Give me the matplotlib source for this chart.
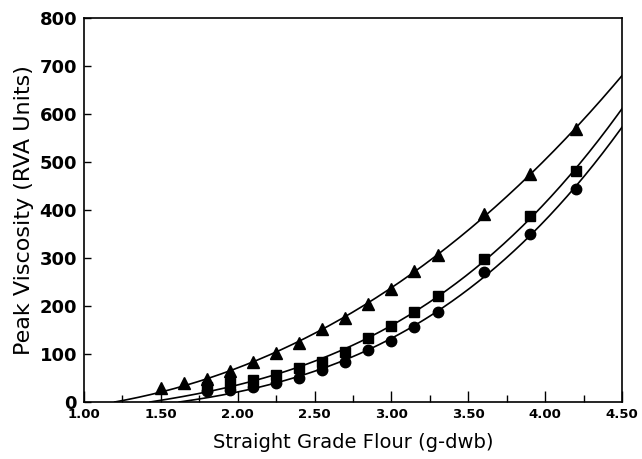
import numpy as np
import matplotlib
matplotlib.use("Agg")
from matplotlib import pyplot as plt
from matplotlib.ticker import MultipleLocator, FormatStrFormatter

plt.rcParams["font.family"] = ["DejaVu Sans"]

# data
x_tri = [1.50, 1.65, 1.80, 1.95, 2.10, 2.25, 2.40, 2.55, 2.70, 2.85, 3.00, 3.15, 3.30, 3.60, 3.90, 4.20]
y_tri = [29, 39, 48, 65, 84, 102, 122, 152, 176, 205, 236, 273, 307, 392, 474, 568]

x_sq = [1.80, 1.95, 2.10, 2.25, 2.40, 2.55, 2.70, 2.85, 3.00, 3.15, 3.30, 3.60, 3.90, 4.20]
y_sq = [31, 39, 46, 57, 70, 84, 105, 133, 159, 188, 221, 297, 388, 481]

x_circ = [1.80, 1.95, 2.10, 2.25, 2.40, 2.55, 2.70, 2.85, 3.00, 3.15, 3.30, 3.60, 3.90, 4.20]
y_circ = [22, 25, 32, 39, 51, 67, 84, 108, 127, 157, 188, 271, 350, 444]

# x where each fitted curve leaves the baseline
curve_start = [1.20, 1.43, 1.62]

series = [
    (x_tri, y_tri, "^", 8),
    (x_sq, y_sq, "s", 7),
    (x_circ, y_circ, "o", 7.5),
]


def fit_curve(xs, ys, x0):
    # cubic through (x0, 0), least squares on the points
    t = np.asarray(xs) - x0
    A = np.column_stack([t, t ** 2, t ** 3])
    coef, *_ = np.linalg.lstsq(A, np.asarray(ys, float), rcond=None)
    xf = np.linspace(x0, 4.5, 300)
    tf = xf - x0
    return xf, coef[0] * tf + coef[1] * tf ** 2 + coef[2] * tf ** 3


fig = plt.figure(figsize=(6.42, 4.59), dpi=100)
ax = fig.add_axes([0.1308, 0.1242, 0.838, 0.8366])

for (xs, ys, mk, ms), x0 in zip(series, curve_start):
    xf, yf = fit_curve(xs, ys, x0)
    ax.plot(xf, yf, color="black", lw=1.2)
    ax.plot(xs, ys, linestyle="none", marker=mk, ms=ms, color="black")

ax.set_xlim(1.0, 4.5)
ax.set_ylim(0, 800)
ax.xaxis.set_major_locator(MultipleLocator(0.5))
ax.xaxis.set_minor_locator(MultipleLocator(0.25))
ax.xaxis.set_major_formatter(FormatStrFormatter("%.2f"))
ax.yaxis.set_major_locator(MultipleLocator(100))

ax.tick_params(axis="x", which="major", direction="in", length=8, width=1, labelsize=9.5, pad=4)
ax.tick_params(axis="x", which="minor", direction="in", length=5, width=1)
ax.tick_params(axis="y", which="major", direction="in", length=5, width=1, labelsize=13, pad=5)
for lab in ax.get_yticklabels() + ax.get_xticklabels():
    lab.set_fontweight("bold")

for sp in ax.spines.values():
    sp.set_linewidth(1.2)

ax.set_xlabel("Straight Grade Flour (g-dwb)", fontsize=14, labelpad=9)
ax.set_ylabel("Peak Viscosity (RVA Units)", fontsize=16, labelpad=4)

fig.savefig("out.png", dpi=100)
